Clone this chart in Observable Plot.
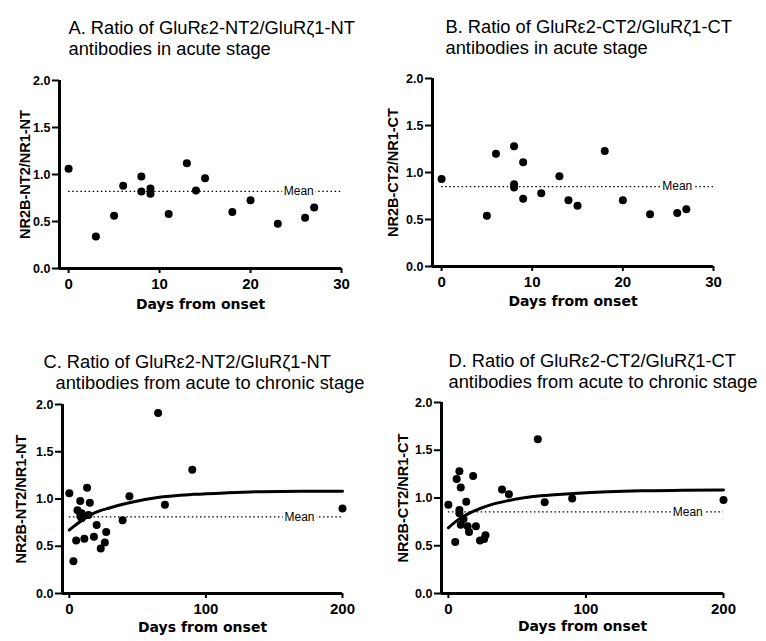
<!DOCTYPE html>
<html><head><meta charset="utf-8">
<script src="https://cdn.jsdelivr.net/npm/d3@7"></script>
<script src="https://cdn.jsdelivr.net/npm/@observablehq/plot@0.6"></script>
<style>
body{margin:0;background:#fff;}
#wrap{position:relative;width:766px;height:641px;overflow:hidden;background:#fff;}
#wrap svg{position:absolute;}
</style></head><body><div id="wrap"></div>
<script>
// ---- data ----
const daysA  = [0, 3, 5, 6, 8, 8, 9, 9, 11, 13, 14, 15, 18, 20, 23, 26, 27];
const ratioA = [1.06, 0.34, 0.56, 0.88, 0.98, 0.82, 0.85, 0.795, 0.58, 1.12, 0.83, 0.96, 0.60, 0.725, 0.475, 0.54, 0.65];
const daysB  = [0, 5, 6, 8, 8, 8, 9, 9, 11, 13, 14, 15, 18, 20, 23, 26, 27];
const ratioB = [0.93, 0.54, 1.20, 1.28, 0.875, 0.84, 1.11, 0.72, 0.78, 0.96, 0.705, 0.645, 1.23, 0.705, 0.555, 0.57, 0.61];
const daysLate   = [39, 44, 65, 70, 90, 200];
const ratioLateC = [0.775, 1.03, 1.91, 0.94, 1.31, 0.90];
const ratioLateD = [1.09, 1.04, 1.615, 0.955, 0.995, 0.98];
const fitDays = [0, 6, 18, 30, 43, 67, 91, 116, 140, 170, 200];
const fitC    = [0.672, 0.74, 0.851, 0.908, 0.957, 1.02, 1.049, 1.066, 1.077, 1.081, 1.083];
const fitD    = [0.688, 0.76, 0.859, 0.925, 0.971, 1.023, 1.047, 1.065, 1.075, 1.080, 1.083];
const meanA = 0.82, meanB = 0.85, meanC = 0.81, meanD = 0.855;
const yTicks = [0, 0.5, 1.0, 1.5, 2.0];
const xTicksAcute = [0, 10, 20, 30];
const xTicksChronic = [0, 100, 200];
const titles = {
  A: ["A. Ratio of GluRε2-NT2/GluRζ1-NT", "antibodies in acute stage"],
  B: ["B. Ratio of GluRε2-CT2/GluRζ1-CT", "antibodies in acute stage"],
  C: ["C. Ratio of GluRε2-NT2/GluRζ1-NT", "antibodies from acute to chronic stage"],
  D: ["D. Ratio of GluRε2-CT2/GluRζ1-CT", "antibodies from acute to chronic stage"]
};
const yLabels = {A: "NR2B-NT2/NR1-NT", B: "NR2B-CT2/NR1-CT", C: "NR2B-NT2/NR1-NT", D: "NR2B-CT2/NR1-CT"};
const xLabel = "Days from onset";

const zip = (xs, ys) => xs.map((d, i) => ({day: d, value: ys[i]}));
const FONT = "'Liberation Sans', Arial, Helvetica, sans-serif";
const WIDE = "'DejaVu Sans', 'Liberation Sans', sans-serif";

function panel(c) {
  const m = c.m;
  const marks = [
    Plot.ruleY([c.mean], {x1: 0, x2: c.xDomain[1], stroke: "black", strokeWidth: 1.2, strokeDasharray: "1.5,2.6"}),
    Plot.text([c.mean], {x: c.meanX, y: d => d, text: () => "Mean", fontSize: 12, fill: "black", stroke: "white", strokeWidth: 5, paintOrder: "stroke"})
  ];
  if (c.fit) marks.push(Plot.line(c.fit, {x: "day", y: "value", curve: "monotone-x", stroke: "black", strokeWidth: 3}));
  marks.push(Plot.dot(c.data, {x: "day", y: "value", r: 4, fill: "black"}));
  marks.push(Plot.ruleX([c.xDomain[0]], {y1: 0, y2: 2, stroke: "black", strokeWidth: 3}));
  marks.push(Plot.ruleY([0], {x1: c.xDomain[0], x2: c.xDomain[1], stroke: "black", strokeWidth: 3}));
  marks.push(Plot.axisY({ticks: yTicks, tickSize: 7, tickPadding: 2, tickFormat: d3.format(".1f"), fontSize: 12.5, fontWeight: "bold", strokeWidth: 2, label: null}));
  marks.push(Plot.axisX({ticks: c.xTicks, tickSize: 5, tickPadding: 5, tickFormat: d3.format("d"), fontSize: 15, fontWeight: "bold", strokeWidth: 2, label: null}));
  // titles
  c.title.forEach((t, i) => {
    marks.push(Plot.text([t], {frameAnchor: "top-left", dx: c.tx[i] - m.l, dy: c.ty[i] - m.t, text: d => d, textAnchor: "start", lineAnchor: "bottom", fontSize: 18.3, fill: "black"}));
  });
  marks.push(Plot.text([c.ylabel], {frameAnchor: "left", dx: c.ylx - m.l, rotate: -90, text: d => d, textAnchor: "middle", lineAnchor: "middle", fontSize: 14.5, fontWeight: "bold", fill: "black"}));
  marks.push(Plot.text([xLabel], {frameAnchor: "bottom", dy: c.xly, text: d => d, textAnchor: "middle", lineAnchor: "bottom", fontSize: 14, fontWeight: "bold", fontFamily: WIDE, fill: "black"}));
  const svg = Plot.plot({
    width: c.w, height: c.h,
    marginLeft: m.l, marginRight: m.r, marginTop: m.t, marginBottom: m.b,
    x: {domain: c.xDomain},
    y: {domain: [0, 2]},
    style: {fontFamily: FONT, background: "transparent", color: "black", overflow: "visible"},
    marks
  });
  svg.style.left = c.left + "px";
  svg.style.top = c.top + "px";
  document.getElementById("wrap").appendChild(svg);
}

panel({left: 0, top: 0, w: 383, h: 320, m: {l: 59, r: 42, t: 80, b: 52},
  data: zip(daysA, ratioA), mean: meanA, meanX: 25.3, xDomain: [-1, 30], xTicks: xTicksAcute,
  title: titles.A, tx: [68, 68], ty: [33, 54], ylabel: yLabels.A, ylx: 25, xly: 40});
panel({left: 383, top: 0, w: 383, h: 320, m: {l: 49, r: 53, t: 78, b: 54},
  data: zip(daysB, ratioB), mean: meanB, meanX: 26, xDomain: [-1, 30], xTicks: xTicksAcute,
  title: titles.B, tx: [62, 62], ty: [32.5, 53.5], ylabel: yLabels.B, ylx: 10, xly: 39});
panel({left: 0, top: 320, w: 383, h: 321, m: {l: 62, r: 41, t: 84, b: 48},
  data: zip(daysA, ratioA).concat(zip(daysLate, ratioLateC)), fit: zip(fitDays, fitC), mean: meanC, meanX: 168.5,
  xDomain: [-5, 200], xTicks: xTicksChronic,
  title: titles.C, tx: [43, 55], ty: [47, 68], ylabel: yLabels.C, ylx: 21, xly: 38});
panel({left: 383, top: 320, w: 383, h: 321, m: {l: 58, r: 43, t: 82, b: 48},
  data: zip(daysB, ratioB).concat(zip(daysLate, ratioLateD)), fit: zip(fitDays, fitD), mean: meanD, meanX: 174,
  xDomain: [-5, 200], xTicks: xTicksChronic,
  title: titles.D, tx: [65, 65], ty: [46.5, 67.5], ylabel: yLabels.D, ylx: 20, xly: 37});
</script></body></html>
